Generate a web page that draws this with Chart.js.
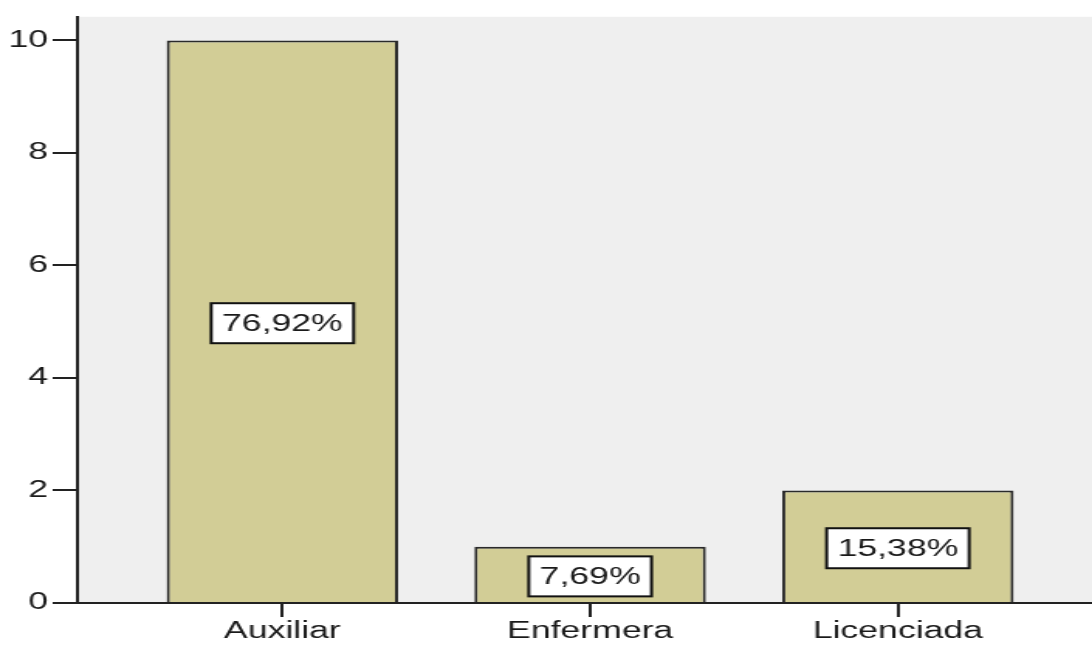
<!DOCTYPE html>
<html>
<head>
<meta charset="utf-8">
<script src="https://cdn.jsdelivr.net/npm/chart.js@4/dist/chart.umd.min.js"></script>
<style>
  html, body { margin: 0; padding: 0; background: #fff; overflow: hidden; }
  /* the SPSS export is stretched sideways, so the whole canvas is too */
  #wrap { width: 705px; height: 646px; transform: scaleX(1.549); transform-origin: 0 0; }
</style>
</head>
<body>
<div id="wrap"><canvas id="cargoChart" width="705" height="646"></canvas></div>
<script>
// --------------------------------
// Data
// --------------------------------
const categories = ["Auxiliar", "Enfermera", "Licenciada"];
const counts = [10, 1, 2];
const yTicks = [0, 2, 4, 6, 8, 10];

const total = counts.reduce((a, b) => a + b, 0);
const pctLabel = (v) => ((v / total) * 100).toFixed(2).replace(".", ",") + "%";

const FONT = "'Liberation Sans', Arial, sans-serif";

// gray plot background
const plotBackground = {
  id: "plotBackground",
  beforeDraw(chart) {
    const { ctx, chartArea } = chart;
    ctx.save();
    ctx.fillStyle = "#efefef";
    ctx.fillRect(chartArea.left, chartArea.top, chartArea.right - chartArea.left, chartArea.bottom - chartArea.top);
    ctx.restore();
  },
};

// white boxed percentage in the middle of each bar
const pctBoxes = {
  id: "pctBoxes",
  afterDatasetsDraw(chart) {
    const { ctx } = chart;
    const meta = chart.getDatasetMeta(0);
    ctx.save();
    ctx.font = "23px " + FONT;
    ctx.textAlign = "center";
    ctx.textBaseline = "middle";
    meta.data.forEach((bar, i) => {
      const text = pctLabel(counts[i]);
      const w = ctx.measureText(text).width + 14;
      const h = 40;
      const cx = bar.x;
      const cy = (bar.y + bar.base) / 2 + 2;
      ctx.fillStyle = "#fff";
      ctx.fillRect(cx - w / 2, cy - h / 2, w, h);
      ctx.strokeStyle = "#111";
      ctx.lineWidth = 2;
      ctx.strokeRect(cx - w / 2, cy - h / 2, w, h);
      ctx.fillStyle = "#1a1a1a";
      ctx.fillText(text, cx, cy + 1);
    });
    ctx.restore();
  },
};

new Chart(document.getElementById("cargoChart").getContext("2d"), {
  type: "bar",
  data: {
    datasets: [
      {
        data: counts.map((v, i) => ({ x: i, y: v })),
        backgroundColor: "#d2cd96",
        borderColor: "#2a2a2a",
        borderWidth: 2,
        categoryPercentage: 1,
        barPercentage: 0.752,
      },
    ],
  },
  options: {
    responsive: false,
    devicePixelRatio: 1,
    animation: false,
    layout: { padding: { top: 14, right: 0, left: 0, bottom: 0 } },
    plugins: { legend: { display: false }, tooltip: { enabled: false } },
    scales: {
      x: {
        type: "linear",
        offset: false,
        min: -0.666,
        max: 2.631,
        afterBuildTicks: (scale) => {
          scale.ticks = categories.map((_, i) => ({ value: i }));
        },
        afterFit: (scale) => {
          scale.height = 43;
        },
        ticks: {
          callback: (v) => categories[v],
          color: "#1a1a1a",
          font: { family: FONT, size: 23 },
          padding: 1,
          maxRotation: 0,
          autoSkip: false,
        },
        grid: {
          offset: false,
          drawOnChartArea: false,
          drawTicks: true,
          tickLength: 14,
          color: "#222",
          lineWidth: 2,
        },
        border: { display: true, color: "#222", width: 2 },
      },
      y: {
        min: 0,
        max: 10.42,
        afterBuildTicks: (scale) => {
          scale.ticks = yTicks.map((v) => ({ value: v }));
        },
        afterFit: (scale) => {
          scale.width = 50;
        },
        ticks: {
          color: "#1a1a1a",
          font: { family: FONT, size: 23 },
          padding: 3,
        },
        grid: {
          drawOnChartArea: false,
          drawTicks: true,
          tickLength: 16,
          color: "#222",
          lineWidth: 2,
        },
        border: { display: true, color: "#222", width: 2 },
      },
    },
  },
  plugins: [plotBackground, pctBoxes],
});
</script>
</body>
</html>
